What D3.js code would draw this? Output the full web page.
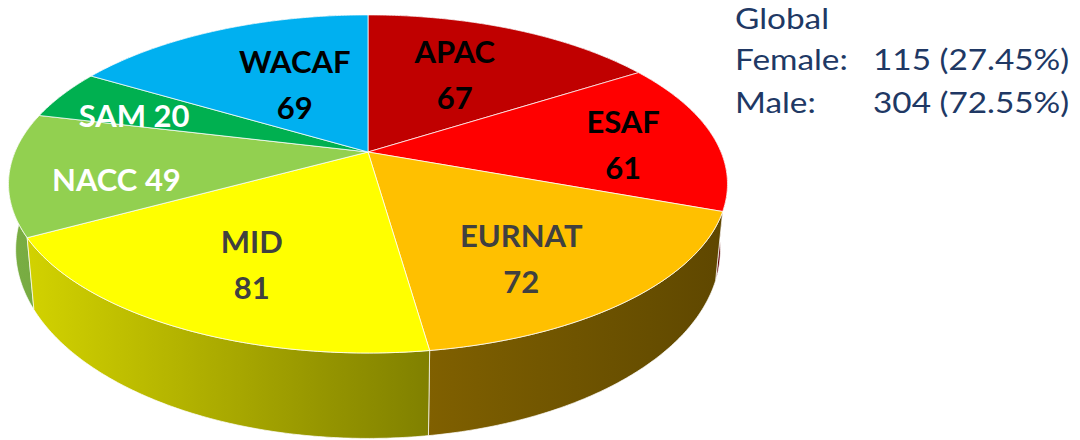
<!DOCTYPE html>
<html>
<head>
<meta charset="utf-8">
<script src="https://cdn.jsdelivr.net/npm/d3@7"></script>
<style>
  body { margin: 0; background: #fff; }
  svg { display: block; }
</style>
</head>
<body>
<div id="chart"></div>
<script>
var regions = ["APAC", "ESAF", "EURNAT", "MID", "NACC", "SAM", "WACAF"];
var counts = [67, 61, 72, 81, 49, 20, 69];

var legendTitle = "Global";
var legendLabels = ["Female:", "Male:"];
var legendCounts = [115, 304];

var width = 1080, height = 440;
var svg = d3.select("#chart").append("svg")
    .attr("width", width)
    .attr("height", height);
var defs = svg.append("defs");

var color = d3.scaleOrdinal()
    .domain(regions)
    .range(["#C00000", "#FF0000", "#FFC000", "#FFFF00", "#92D050", "#00B050", "#00B0F0"]);
var labelColor = d3.scaleOrdinal()
    .domain(regions)
    .range(["#000000", "#000000", "#404040", "#404040", "#ffffff", "#ffffff", "#000000"]);

// these two are written on one line
var inlineLabels = ["NACC", "SAM"];
// nudge of each label from the middle of its slice: [degrees, radius fraction]
var labelSpot = {
    APAC: [-1.3, 0.585], ESAF: [2.8, 0.73], EURNAT: [5.6, 0.70], MID: [-1.3, 0.68],
    NACC: [-6.1, 0.71], SAM: [-3.5, 0.73], WACAF: [2.9, 0.50]
};

// tilted disc with a bit of perspective (front is closer, so bigger)
var topE = { cx: 368, cy: 152, a: 353, b: 163 },
    botE = { cx: 368, cy: 214, a: 346, b: 182 },
    k = 0.189;

function proj(e, ang, r) {
    var u = r * Math.sin(ang), v = -r * Math.cos(ang), den = 1 - k * v;
    return [e.cx + e.a * u / den, e.cy + e.b * v / den];
}
function arcPts(e, a0, a1) {
    var n = Math.max(2, Math.ceil((a1 - a0) / 0.01));
    return d3.range(n + 1).map(function (i) { return proj(e, a0 + (a1 - a0) * i / n, 1); });
}
function shadeColor(c, f) {
    var r = d3.rgb(c);
    return d3.rgb(r.r * f, r.g * f, r.b * f);
}

var shade = d3.scaleLinear().domain([8, 430, 728]).range([0.84, 0.5, 0.37]).clamp(true);
var line = d3.line();

var pie = d3.pie().sort(null).value(function (d) { return d; });
var arcs = pie(counts).map(function (d, i) { d.region = regions[i]; return d; });

// sides first, back ones before front ones
var sides = arcs.slice().sort(function (a, b) {
    return -Math.cos((b.startAngle + b.endAngle) / 2) < -Math.cos((a.startAngle + a.endAngle) / 2) ? 1 : -1;
});

sides.forEach(function (d, i) {
    var pts = arcPts(topE, d.startAngle, d.endAngle)
        .concat(arcPts(botE, d.startAngle, d.endAngle).reverse());
    var x0 = d3.min(pts, function (p) { return p[0]; }),
        x1 = d3.max(pts, function (p) { return p[0]; });
    var grad = defs.append("linearGradient")
        .attr("id", "side" + i)
        .attr("gradientUnits", "userSpaceOnUse")
        .attr("x1", x0).attr("x2", x1).attr("y1", 0).attr("y2", 0);
    d3.range(0, 1.01, 0.25).forEach(function (t) {
        grad.append("stop")
            .attr("offset", t)
            .attr("stop-color", shadeColor(color(d.region), shade(x0 + (x1 - x0) * t)));
    });
    svg.append("path")
        .attr("d", line(pts) + "Z")
        .attr("fill", "url(#side" + i + ")")
        .attr("stroke", "#ffffff")
        .attr("stroke-opacity", 0.7)
        .attr("stroke-width", 1);
});

// top faces
svg.append("g").selectAll("path")
    .data(arcs)
    .join("path")
    .attr("d", function (d) {
        return line([proj(topE, 0, 0)].concat(arcPts(topE, d.startAngle, d.endAngle))) + "Z";
    })
    .attr("fill", function (d) { return color(d.region); })
    .attr("stroke", "#ffffff")
    .attr("stroke-opacity", 0.75)
    .attr("stroke-width", 1)
    .attr("stroke-linejoin", "round");

// slice labels
var labels = svg.append("g")
    .attr("font-family", "Lato, 'Open Sans', sans-serif")
    .attr("font-weight", "bold")
    .attr("font-size", 31)
    .attr("text-anchor", "middle");

arcs.forEach(function (d) {
    var spot = labelSpot[d.region];
    var mid = (d.startAngle + d.endAngle) / 2 + spot[0] * Math.PI / 180;
    var p = proj(topE, mid, spot[1]);
    var t = labels.append("text")
        .attr("fill", labelColor(d.region));
    if (inlineLabels.indexOf(d.region) >= 0) {
        t.attr("x", p[0]).attr("y", p[1] + 11).text(d.region + " " + d.data);
    } else {
        t.append("tspan").attr("x", p[0]).attr("y", p[1] - 12).text(d.region);
        t.append("tspan").attr("x", p[0]).attr("y", p[1] + 34).text(d.data);
    }
});

// gender summary on the right (the source text is set wide)
var total = d3.sum(legendCounts);
var legend = svg.append("g")
    .attr("transform", "translate(735,0) scale(1.17,1)")
    .attr("font-family", "Lato, 'Open Sans', sans-serif")
    .attr("font-size", 28.5)
    .attr("fill", "#203864");

legend.append("text").attr("x", 0).attr("y", 29).text(legendTitle);
legendLabels.forEach(function (lab, i) {
    var y = 70 + i * 43;
    legend.append("text").attr("x", 0).attr("y", y).text(lab);
    legend.append("text").attr("x", 138 / 1.17).attr("y", y)
        .text(legendCounts[i] + " (" + (legendCounts[i] / total * 100).toFixed(2) + "%)");
});
</script>
</body>
</html>
